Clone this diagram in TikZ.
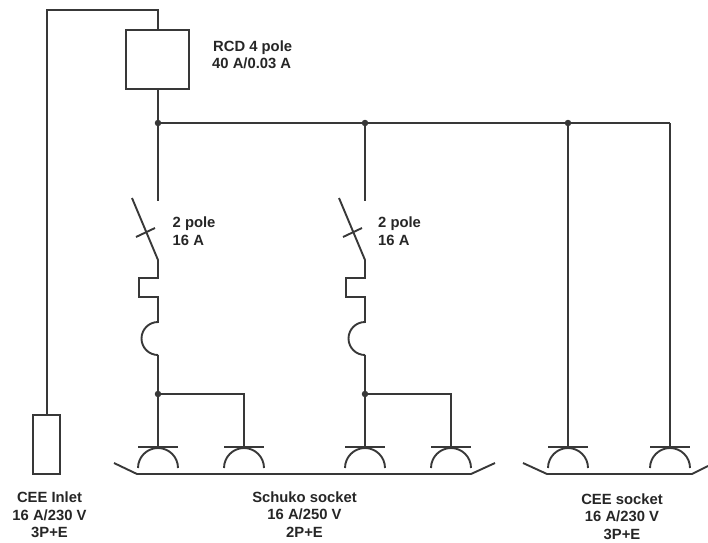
\documentclass[tikz,border=0pt]{standalone}
\usepackage{fontspec}
\setmainfont{Liberation Sans}
\definecolor{wirecol}{gray}{0.22}
\tikzset{
	wire/.style={draw=wirecol, line width=1.9pt, line join=miter},
	box/.style={wire, rectangle, inner sep=0pt, fill=white},
	dot/.style={circle, fill=wirecol, inner sep=0pt, minimum size=6.5pt},
	caption/.style={align=center, font=\fontsize{14.8}{17.4}\selectfont\bfseries, text=black!85, inner sep=0pt},
	socket/.pic={
		\draw[wire] (-20,0) -- (20,0);
		\draw[wire] (-20,21) arc[start angle=180, end angle=0, radius=20pt];
	},
	breaker/.pic={
		\draw[wire] (-26,-62) -- (0,0) -- (0,18) -- (-19,18) -- (-19,37) -- (0,37) -- (0,62)
			arc[start angle=90, end angle=270, radius=16.5pt];
		\draw[wire] (-22,-23) -- (-3,-32);
	}
}
\begin{document}
\begin{tikzpicture}[x=1pt, y=-1pt]
	\useasboundingbox (0,0) rectangle (708,542);
	% boxes
	\node[box, minimum width=63pt, minimum height=59pt] (rcd) at (157.5,59.5) {};
	\node[box, minimum width=27pt, minimum height=59pt] (inlet) at (46.5,444.5) {};
	\coordinate (corner1) at (47,10);
	\coordinate (corner2) at (158,10);
	\draw[wire] (inlet.north -| corner1) -- (corner1) -- (corner2) -- (rcd.north -| corner2);
	% bus
	\node[dot] (tap1) at (158,123) {};
	\node[dot] (tap2) at (365,123) {};
	\node[dot] (tap3) at (568,123) {};
	\coordinate (busend) at (670,123);
	\coordinate (open1) at (158,201);
	\coordinate (open2) at (365,201);
	\draw[wire] (rcd.south -| tap1) -- (tap1) -- (open1);
	\draw[wire] (tap1) -- (tap2) -- (tap3) -- (busend);
	\draw[wire] (tap2) -- (open2);
	% breakers
	\pic at (158,260) {breaker};
	\pic at (365,260) {breaker};
	\node[dot] (fork1) at (158,394) {};
	\node[dot] (fork2) at (365,394) {};
	\coordinate (out1) at (158,355);
	\coordinate (out2) at (365,355);
	\draw[wire] (out1) -- (fork1);
	\draw[wire] (out2) -- (fork2);
	% socket tops
	\coordinate (s1) at (158,447);
	\coordinate (s2) at (244,447);
	\coordinate (s3) at (365,447);
	\coordinate (s4) at (451,447);
	\coordinate (s5) at (568,447);
	\coordinate (s6) at (670,447);
	\pic at (s1) {socket};
	\pic at (s2) {socket};
	\pic at (s3) {socket};
	\pic at (s4) {socket};
	\pic at (s5) {socket};
	\pic at (s6) {socket};
	\draw[wire] (fork1) -- (s1);
	\draw[wire] (fork1) -| (s2);
	\draw[wire] (fork2) -- (s3);
	\draw[wire] (fork2) -| (s4);
	\draw[wire] (tap3) -- (s5);
	\draw[wire] (busend) -- (s6);
	% socket bases
	\draw[wire] (114,463) -- (137,474) -- (471,474) -- (495,463);
	\draw[wire] (523,463) -- (547,474) -- (692,474) -- (708,466);
	% labels
	\node[caption, align=left, anchor=north west] (rcdtext) at (212,40.5) {\hspace{1pt}RCD 4 pole\\40 A/0.03 A};
	\node[caption, align=left, anchor=north west] (sw1text) at (172.5,217) {2 pole\\16 A};
	\node[caption, align=left, anchor=north west] (sw2text) at (378,217) {2 pole\\16 A};
	\node[caption, anchor=north] (inlettext) at (49.5,492) {CEE Inlet\\16 A/230 V\\3P+E};
	\node[caption, anchor=north] (schukotext) at (304.5,491.5) {Schuko socket\\16 A/250 V\\2P+E};
	\node[caption, anchor=north] (ceetext) at (622,493.5) {CEE socket\\16 A/230 V\\3P+E};
\end{tikzpicture}
\end{document}
